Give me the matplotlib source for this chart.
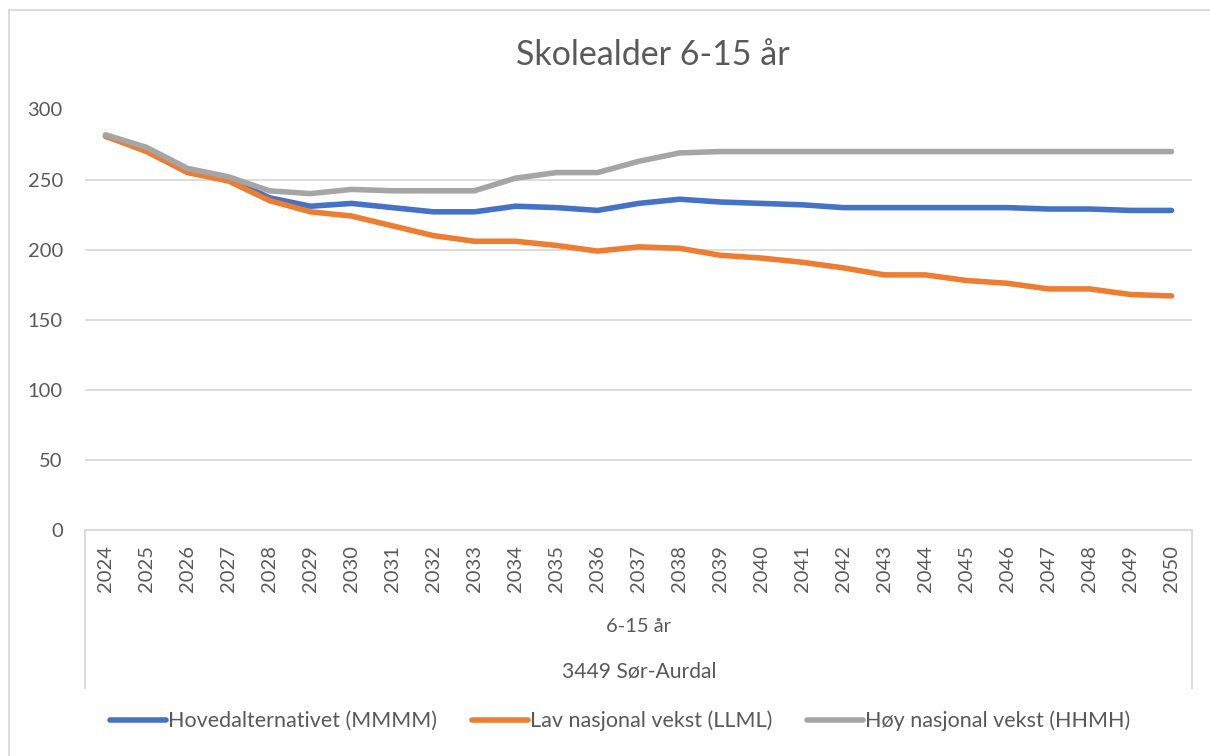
import matplotlib.pyplot as plt
from matplotlib.lines import Line2D

plt.rcParams['font.family'] = ['Lato', 'DejaVu Sans']

aar = [str(a) for a in range(2024, 2051)]
hoved = [281, 271, 257, 251, 237, 231, 233, 230, 227, 227, 231, 230, 228, 233, 236,
         234, 233, 232, 230, 230, 230, 230, 230, 229, 229, 228, 228]
lav = [281, 270, 255, 249, 235, 227, 224, 217, 210, 206, 206, 203, 199, 202, 201,
       196, 194, 191, 187, 182, 182, 178, 176, 172, 172, 168, 167]
hoy = [282, 273, 258, 252, 242, 240, 243, 242, 242, 242, 251, 255, 255, 263, 269,
       270, 270, 270, 270, 270, 270, 270, 270, 270, 270, 270, 270]

tekst = '#595959'
grid = '#D9D9D9'
W, H = 1210, 756

fig = plt.figure(figsize=(12.1, 7.56), dpi=100)
ax = fig.add_axes([85 / W, (H - 530) / H, (1192 - 85) / W, (530 - 109.5) / H])

x = range(len(aar))
ax.plot(x, hoved, color='#4472C4', lw=4, solid_capstyle='round', label='Hovedalternativet (MMMM)')
ax.plot(x, lav, color='#ED7D31', lw=4, solid_capstyle='round', label='Lav nasjonal vekst (LLML)')
ax.plot(x, hoy, color='#A5A5A5', lw=4, solid_capstyle='round', label='Høy nasjonal vekst (HHMH)')

ax.set_xlim(-0.5, len(aar) - 0.5)
ax.set_ylim(0, 300)
ax.set_yticks(range(0, 301, 50))
ax.set_xticks(list(x))
ax.set_xticklabels(aar, rotation=90, va='top')
ax.tick_params(axis='x', length=0, pad=11, labelsize=14.5, colors=tekst)
ax.tick_params(axis='y', length=0, pad=16, labelsize=14.5, colors=tekst)
ax.grid(axis='y', color=grid, lw=1.3)
ax.set_axisbelow(True)
for s in ['top', 'right', 'left']:
    ax.spines[s].set_visible(False)
ax.spines['bottom'].set_color(grid)
ax.spines['bottom'].set_linewidth(1.3)

# boks rundt kategoriaksen
for xp in [85, 1192]:
    fig.add_artist(Line2D([xp / W, xp / W], [(H - 530) / H, (H - 688) / H], color=grid, lw=1.3))

# ramme rundt diagrammet
fig.add_artist(Line2D([9 / W, 9 / W], [0, (H - 10) / H], color=grid, lw=1.3))
fig.add_artist(Line2D([9 / W, 1.0], [(H - 10) / H, (H - 10) / H], color=grid, lw=1.3))

fig.text(653 / W, (H - 55) / H, 'Skolealder 6-15 år', ha='center', va='center', fontsize=24.5, color=tekst)
fig.text(639 / W, (H - 627) / H, '6-15 år', ha='center', va='center', fontsize=14.5, color=tekst)
fig.text(639 / W, (H - 672) / H, '3449 Sør-Aurdal', ha='center', va='center', fontsize=15.2, color=tekst)

fig.legend(loc='center', bbox_to_anchor=(620 / W, (H - 721) / H), ncol=3, frameon=False,
           fontsize=15.5, labelcolor=tekst, handlelength=2.6, handletextpad=0.1, columnspacing=1.6)

fig.savefig('out.png', dpi=100)
